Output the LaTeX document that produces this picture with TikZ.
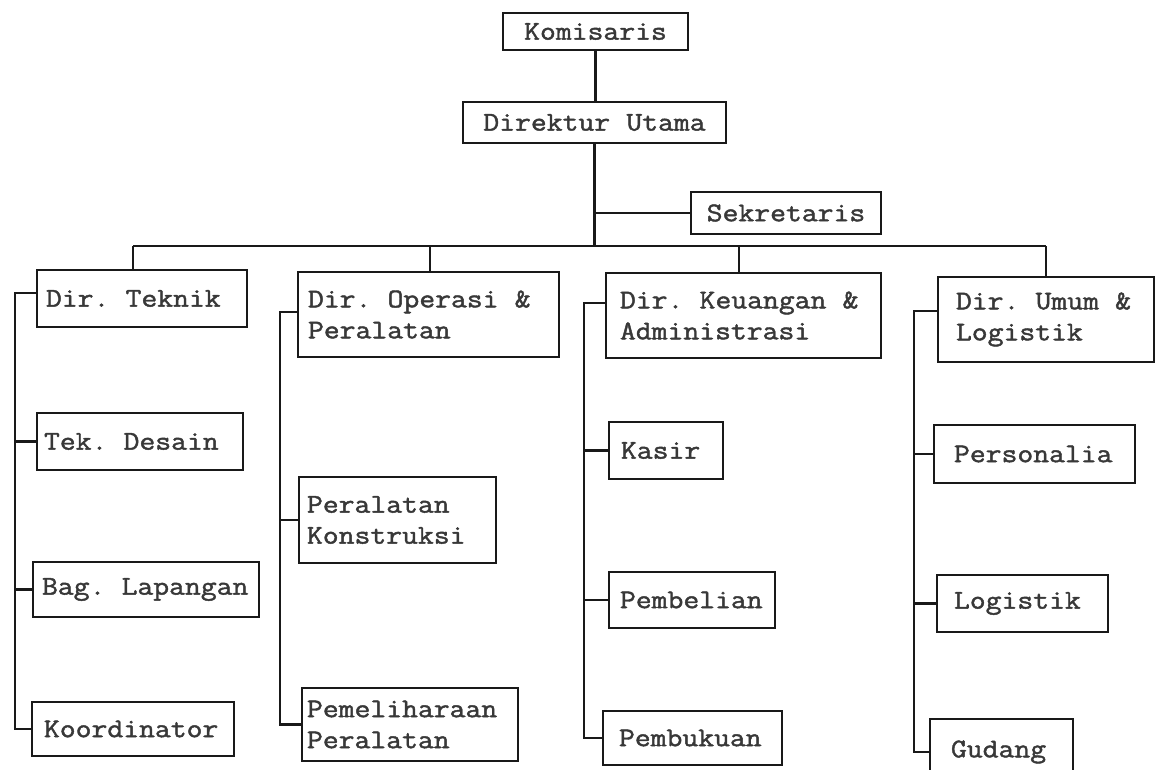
\documentclass[tikz,border=0pt]{standalone}
\usepackage{fontspec}
\newfontfamily\orgmono{Latin Modern Mono}[FakeStretch=1.14,FakeBold=1.6]
\hyphenpenalty=10000
\exhyphenpenalty=10000
\newcommand\osp{\hbox to 0.6em{}}
\tikzset{
  obx/.style={draw=black!90, line width=2.4pt, rectangle, inner ysep=0pt,
    font=\orgmono\fontsize{27}{31}\selectfont, text=black!78},
  link/.style={draw=black!90, line width=2.2pt}
}
\newcommand\orgbox[8]{%
  \pgfmathsetmacro\obw{#4-#2}%
  \pgfmathsetmacro\obh{#5-#3}%
  \pgfmathsetmacro\otw{#4-#2-2*#6}%
  \node[obx, minimum width=\obw pt, minimum height=\obh pt, text width=\otw pt,
        inner xsep=#6pt, align=#7] (#1) at ({(#2+#4)/2},{(#3+#5)/2}) {#8};}
\begin{document}
\begin{tikzpicture}[x=1pt,y=-1pt]
\useasboundingbox (0,0) rectangle (1156,770);
\fill[white] (0,0) rectangle (1156,770);
\clip (0,0) rectangle (1156,770);
% top
\orgbox{kom}{503}{13}{688}{50}{2}{center}{Komisaris}
\orgbox{dir}{463}{102}{726}{143}{2}{center}{Direktur\osp Utama}
\orgbox{sek}{691}{192}{881}{234}{2}{center}{Sekretaris}
% directors
\orgbox{tek}{37}{270}{247}{327}{9}{left}{Dir.\osp Teknik}
\orgbox{ops}{298}{272}{559}{357}{10}{left}{Dir.\osp Operasi\osp\&\\Peralatan}
\orgbox{keu}{606}{273}{881}{358}{14}{left}{Dir.\osp Keuangan\osp\&\\Administrasi}
\orgbox{umu}{938}{277}{1154}{362}{18}{left}{Dir.\osp Umum\osp\&\\Logistik}
% children
\orgbox{des}{37}{413}{243}{470}{7}{left}{Tek.\osp Desain}
\orgbox{bag}{33}{562}{259}{617}{9}{left}{Bag.\osp Lapangan}
\orgbox{koo}{32}{702}{234}{756}{12}{left}{Koordinator}
\orgbox{kon}{299}{477}{496}{563}{8}{left}{Peralatan\\Konstruksi}
\orgbox{pem}{302}{688}{518}{761}{5}{left}{Pemeliharaan\\Peralatan}
\orgbox{kas}{609}{422}{723}{479}{12}{left}{Kasir}
\orgbox{bel}{609}{572}{775}{628}{11}{left}{Pembelian}
\orgbox{buk}{603}{711}{782}{765}{16}{left}{Pembukuan}
\orgbox{per}{934}{425}{1135}{483}{20}{left}{Personalia}
\orgbox{log}{937}{575}{1108}{632}{17}{left}{Logistik}
\orgbox{gud}{930}{719}{1073}{785}{21}{left}{Gudang}
% coordinates
\coordinate (b1) at (133,246);
\coordinate (b2) at (430,246);
\coordinate (b3) at (739,246);
\coordinate (b4) at (1046,246);
\coordinate (sp1) at (15,0);
\coordinate (sp2) at (280,0);
\coordinate (sp3) at (584,0);
\coordinate (sp4) at (914,0);
% top connectors
\draw[link] (kom.south) -- (kom.south |- dir.north);
\draw[link] (dir.south) -- (dir.south |- b1);
\draw[link] (sek.west) -- (sek.west -| dir.south);
\draw[link] (b1) -- (b4);
\draw[link] (b1) -- (b1 |- tek.north);
\draw[link] (b2) -- (b2 |- ops.north);
\draw[link] (b3) -- (b3 |- keu.north);
\draw[link] (b4) -- (b4 |- umu.north);
% spines
\draw[link] ([yshift=5.5pt]tek.west) -| (koo.west -| sp1) -- (koo.west);
\draw[link] (des.west) -- (des.west -| sp1);
\draw[link] (bag.west) -- (bag.west -| sp1);
\draw[link] ([yshift=2.5pt]ops.west) -| (pem.west -| sp2) -- (pem.west);
\draw[link] (kon.west) -- (kon.west -| sp2);
\draw[link] ([yshift=12.5pt]keu.west) -| (buk.west -| sp3) -- (buk.west);
\draw[link] (kas.west) -- (kas.west -| sp3);
\draw[link] (bel.west) -- (bel.west -| sp3);
\draw[link] ([yshift=8.5pt]umu.west) -| (gud.west -| sp4) -- (gud.west);
\draw[link] (per.west) -- (per.west -| sp4);
\draw[link] (log.west) -- (log.west -| sp4);
\end{tikzpicture}
\end{document}
